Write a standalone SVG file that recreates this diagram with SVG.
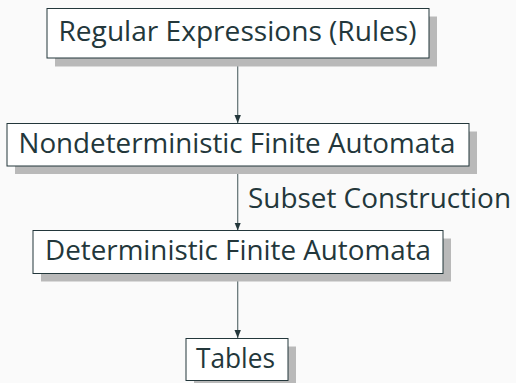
<svg xmlns="http://www.w3.org/2000/svg" width="516" height="383" viewBox="0 0 516 383">
  <defs>
    <marker id="arrow" viewBox="0 0 10 10" refX="10" refY="5" markerWidth="8" markerHeight="8" markerUnits="userSpaceOnUse" orient="auto">
      <path d="M0,1 L10,5 L0,9 z" fill="#23373b"/>
    </marker>
    <style>
      .shadow { fill: #b9b9b9; }
      .box { fill: #ffffff; stroke: #23373b; stroke-width: 1; }
      .label { font-family: "Open Sans", "Noto Sans", sans-serif; font-size: 28px; fill: #23373b; text-anchor: middle; }
      .edge { stroke: #5f6f72; stroke-width: 1.2; fill: none; marker-end: url(#arrow); }
    </style>
  </defs>
  <rect width="516" height="383" fill="#fafafa"/>

  <g id="connectors">
    <line class="edge" x1="237.7" y1="58" x2="237.7" y2="123"/>
    <line class="edge" x1="237.7" y1="166" x2="237.7" y2="230.5"/>
    <line class="edge" x1="237.7" y1="273" x2="237.7" y2="338"/>
    <text class="label" x="248" y="208" style="text-anchor:start" textLength="263" lengthAdjust="spacingAndGlyphs">Subset Construction</text>
  </g>

  <g id="regex">
    <rect class="shadow" x="55" y="16.5" width="382" height="50"/>
    <rect class="box" x="47" y="8.5" width="382" height="49.5"/>
    <text class="label" x="237.5" y="41" textLength="358" lengthAdjust="spacingAndGlyphs">Regular Expressions (Rules)</text>
  </g>

  <g id="nfa">
    <rect class="shadow" x="15" y="131.5" width="462" height="42.5"/>
    <rect class="box" x="7" y="123.5" width="462" height="42.5"/>
    <text class="label" x="237" y="152.5" textLength="437" lengthAdjust="spacingAndGlyphs">Nondeterministic Finite Automata</text>
  </g>

  <g id="dfa">
    <rect class="shadow" x="41" y="238.5" width="410" height="43"/>
    <rect class="box" x="33" y="230.5" width="410" height="43"/>
    <text class="label" x="238" y="260" textLength="386" lengthAdjust="spacingAndGlyphs">Deterministic Finite Automata</text>
  </g>

  <g id="tables">
    <rect class="shadow" x="194" y="346.5" width="102" height="42"/>
    <rect class="box" x="186" y="338.5" width="102" height="42"/>
    <text class="label" x="235.5" y="367.5" textLength="79" lengthAdjust="spacingAndGlyphs">Tables</text>
  </g>
</svg>
